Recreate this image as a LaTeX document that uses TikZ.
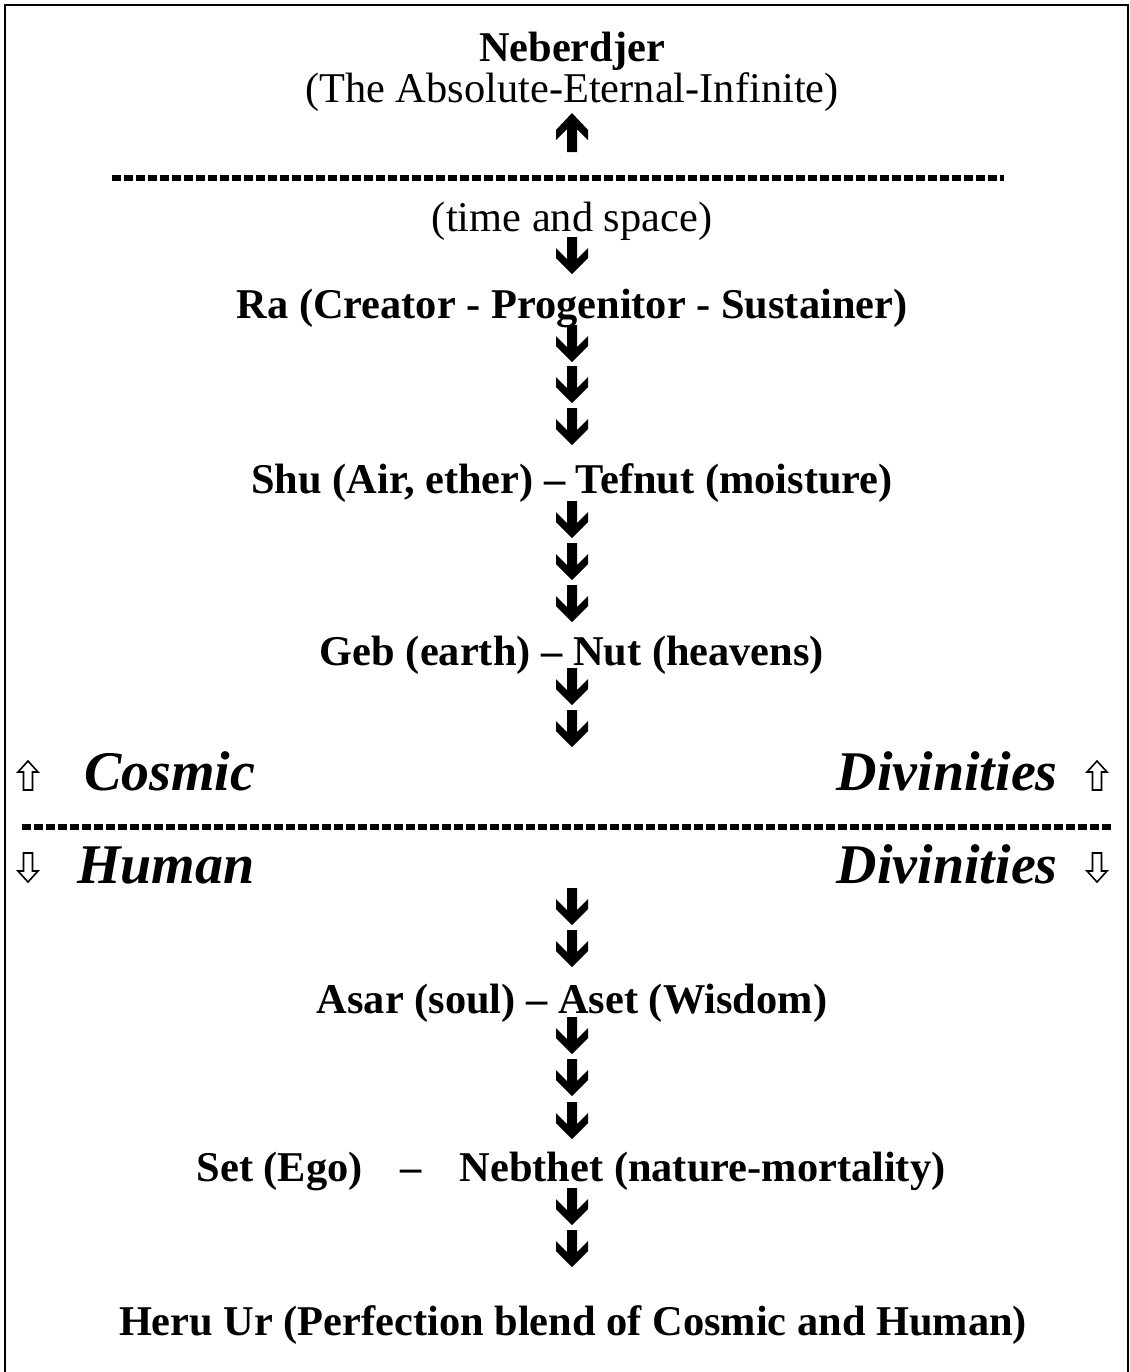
\documentclass[tikz,border=0pt]{standalone}
\usepackage{fontspec}
\setmainfont{Liberation Serif}
\begin{document}
\begin{tikzpicture}[x=0.75pt,y=-0.75pt,
  txt/.style={anchor=base,inner sep=0pt,font=\fontsize{31.8pt}{38pt}\selectfont},
  btxt/.style={txt,font=\fontsize{31.8pt}{38pt}\selectfont\bfseries},
  deco/.style={anchor=base,inner sep=0pt,font=\fontsize{42pt}{48pt}\selectfont\bfseries\itshape},
  sep/.style={line width=3.9pt,dash pattern=on 7pt off 2pt},
  darrow/.pic={\fill (-5,0) -- (5,0) -- (5,22) -- (16,11) -- (16,21) -- (0,37) -- (-16,21) -- (-16,11) -- (-5,22) -- cycle;},
  uarrow/.pic={\fill (-5,39) -- (5,39) -- (5,16) -- (16,27) -- (16,17) -- (0,0) -- (-16,17) -- (-16,27) -- (-5,16) -- cycle;},
  hup/.pic={\draw[line width=1.2pt,fill=white,line join=miter] (0,0) -- (10,11) -- (4.5,11) -- (4.5,29) -- (-4.5,29) -- (-4.5,11) -- (-10,11) -- cycle;},
  hdown/.pic={\draw[line width=1.2pt,fill=white,line join=miter] (0,29) -- (10,18) -- (4.5,18) -- (4.5,0) -- (-4.5,0) -- (-4.5,18) -- (-10,18) -- cycle;}
]
\useasboundingbox (0,0) rectangle (1130,1372);
\fill[white] (0,0) rectangle (1130,1372);
% frame
\draw[line width=1.6pt] (5,1372) -- (5,5) -- (1128,5) -- (1128,1372);

\node[btxt] (neb) at (572,61) {Neberdjer};
\node[txt] (abs) at (572,102) {(The Absolute-Eternal-Infinite)};
\pic at (572,113) {uarrow};
\coordinate (l1a) at (112,178);
\coordinate (l1b) at (1004,178);
\draw[sep] (l1a) -- (l1b);
\node[txt] (ts) at (572,231) {(time and space)};
\pic at (572,237) {darrow};
\node[btxt] (ra) at (572,318) {Ra (Creator - Progenitor - Sustainer)};
\foreach \y in {325,366,408} \pic at (572,\y) {darrow};
\node[btxt] (shu) at (572,493) {Shu (Air, ether) – Tefnut (moisture)};
\foreach \y in {501,543,585} \pic at (572,\y) {darrow};
\node[btxt] (geb) at (572,665) {Geb (earth) – Nut (heavens)};
\foreach \y in {668,710} \pic at (572,\y) {darrow};

\pic at (28,761) {hup};
\node[deco,anchor=base west] (cos) at (84,790) {Cosmic};
\node[deco,anchor=base east] (div1) at (1058,790) {Divinities};
\pic at (1097,761) {hup};

\coordinate (l2a) at (22,827);
\coordinate (l2b) at (1112,827);
\draw[sep] (l2a) -- (l2b);

\pic at (28,853) {hdown};
\node[deco,anchor=base west] (hum) at (77,883) {Human};
\node[deco,anchor=base east] (div2) at (1058,883) {Divinities};
\pic at (1097,853) {hdown};

\foreach \y in {888,930} \pic at (572,\y) {darrow};
\node[btxt] (asar) at (572,1013) {Asar (soul) – Aset (Wisdom)};
\foreach \y in {1017,1059,1102} \pic at (572,\y) {darrow};
\node[btxt] (set) at (571,1181) {Set (Ego)\hspace{28.5pt}–\hspace{28.5pt}Nebthet (nature-mortality)};
\foreach \y in {1188,1230} \pic at (572,\y) {darrow};
\node[btxt] (heru) at (573,1335) {Heru Ur (Perfection blend of Cosmic and Human)};
\end{tikzpicture}
\end{document}
